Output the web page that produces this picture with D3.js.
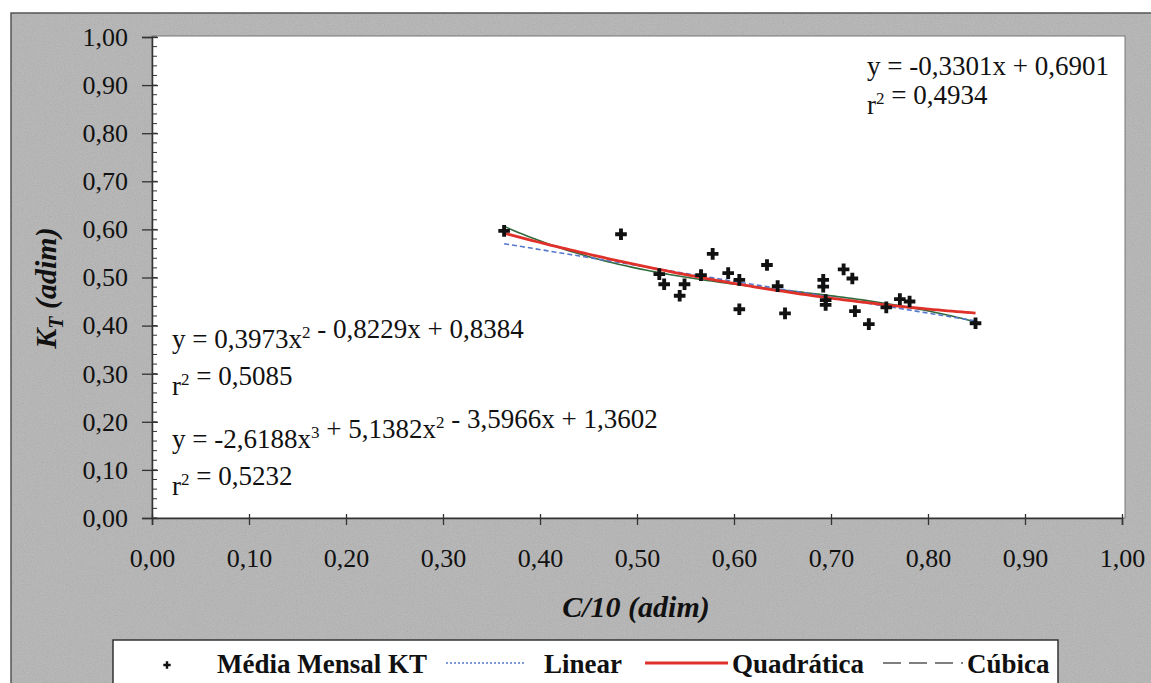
<!DOCTYPE html>
<html>
<head>
<meta charset="utf-8">
<script src="https://cdn.jsdelivr.net/npm/d3@7"></script>
<style>
  html, body { margin: 0; padding: 0; background: #ffffff; }
  svg { display: block; }
  text { font-family: "Liberation Serif", "Times New Roman", serif; fill: #111; }
</style>
</head>
<body>
<svg id="chart" width="1151" height="683"></svg>
<script>
// Monthly mean clearness index KT against cloud cover C/10
const cloudCover = [0.363, 0.4835, 0.523, 0.528, 0.544, 0.549, 0.566, 0.578, 0.594, 0.6055, 0.6055,
  0.634, 0.645, 0.6526, 0.692, 0.692, 0.6945, 0.6945, 0.713, 0.722, 0.7247, 0.739,
  0.757, 0.771, 0.781, 0.849];
const ktMean = [0.597, 0.590, 0.507, 0.486, 0.462, 0.486, 0.505, 0.549, 0.509, 0.495, 0.434,
  0.526, 0.482, 0.4255, 0.495, 0.481, 0.453, 0.443, 0.517, 0.498, 0.430, 0.403,
  0.438, 0.455, 0.450, 0.405];

// Fitted trendline coefficients (highest power first)
const linearCoef = [-0.3301, 0.6901];
const quadCoef = [0.3973, -0.8229, 0.8384];
const cubicCoef = [-2.6188, 5.1382, -3.5966, 1.3602];

const xTicks = [0, 0.1, 0.2, 0.3, 0.4, 0.5, 0.6, 0.7, 0.8, 0.9, 1.0];
const yTicks = [0, 0.1, 0.2, 0.3, 0.4, 0.5, 0.6, 0.7, 0.8, 0.9, 1.0];
const legendLabels = ["Média Mensal KT", "Linear", "Quadrática", "Cúbica"];

const svg = d3.select("#chart");
const fmt = v => d3.format(".2f")(v).replace(".", ",");
const serif = "'Liberation Serif', 'Times New Roman', serif";

// paper grain for the outer frame
const defs = svg.append("defs");
const grain = defs.append("filter").attr("id", "grain")
  .attr("x", 0).attr("y", 0).attr("width", 1).attr("height", 1);
grain.append("feTurbulence").attr("type", "fractalNoise").attr("baseFrequency", 0.9)
  .attr("numOctaves", 2).attr("seed", 7).attr("result", "noise");
grain.append("feColorMatrix").attr("in", "noise").attr("type", "matrix")
  .attr("values", "0.33 0.33 0.33 0 0  0.33 0.33 0.33 0 0  0.33 0.33 0.33 0 0  0 0 0 0 1");

// outer chart frame
svg.append("rect").attr("x", 11).attr("y", 13).attr("width", 1160).attr("height", 700)
  .attr("fill", "#b4b4b4");
svg.append("rect").attr("x", 11).attr("y", 13).attr("width", 1160).attr("height", 700)
  .attr("filter", "url(#grain)").attr("opacity", 0.22);
svg.append("rect").attr("x", 11).attr("y", 13).attr("width", 1160).attr("height", 700)
  .attr("fill", "none").attr("stroke", "#555").attr("stroke-width", 1.5);

const x = d3.scaleLinear().domain([0, 1]).range([152, 1122]);
const y = d3.scaleLinear().domain([0, 1]).range([518, 37]);

// plot area
svg.append("rect").attr("x", 152).attr("y", 36).attr("width", 973).attr("height", 482)
  .attr("fill", "#fff").attr("stroke", "#777").attr("stroke-width", 1);

// y axis: major ticks crossing, minor ticks inside
const yAxis = svg.append("g").attr("transform", `translate(${x(0)},0)`)
  .call(d3.axisLeft(y).tickValues(yTicks).tickFormat(fmt).tickSize(10).tickPadding(14));
yAxis.selectAll(".tick line").attr("x2", -10).attr("x1", 6)
  .attr("stroke", "#333").attr("stroke-width", 1.3);
yAxis.select(".domain").attr("stroke", "#333").attr("stroke-width", 1.5);
yAxis.selectAll(".tick text").style("font-size", "26px").style("font-family", serif).attr("fill", "#1a1a1a");
svg.append("g").selectAll("line").data(d3.range(0, 1.001, 0.02))
  .join("line")
  .attr("x1", x(0)).attr("x2", x(0) + 5)
  .attr("y1", d => y(d)).attr("y2", d => y(d))
  .attr("stroke", "#333").attr("stroke-width", 1);

// x axis
const xAxis = svg.append("g").attr("transform", `translate(0,${y(0)})`)
  .call(d3.axisBottom(x).tickValues(xTicks).tickFormat(fmt).tickSize(7).tickPadding(24));
xAxis.select(".domain").attr("stroke", "#333").attr("stroke-width", 1.5);
xAxis.selectAll(".tick line").attr("stroke", "#333").attr("stroke-width", 1.3).attr("y1", -4);
xAxis.selectAll(".tick text").style("font-size", "26px").style("font-family", serif).attr("fill", "#1a1a1a");

// axis titles
svg.append("text").attr("x", 636).attr("y", 617).attr("text-anchor", "middle")
  .style("font-family", serif)
  .style("font-size", "30px").style("font-weight", "bold").style("font-style", "italic")
  .text("C/10 (adim)");
const yt = svg.append("text").attr("transform", "translate(56,288) rotate(-90)")
  .attr("text-anchor", "middle").style("font-family", serif)
  .style("font-size", "30px").style("font-weight", "bold").style("font-style", "italic");
yt.append("tspan").text("K");
yt.append("tspan").attr("dy", 7).style("font-size", "20px").text("T");
yt.append("tspan").attr("dy", -7).text(" (adim)");

// trendlines
const poly = c => v => c.reduce((acc, k) => acc * v + k, 0);
const xMin = d3.min(cloudCover), xMax = d3.max(cloudCover);
const xs = d3.range(0, 101).map(i => xMin + (xMax - xMin) * i / 100);
const line = f => d3.line().x(d => x(d)).y(d => y(f(d)));

svg.append("path").datum(xs).attr("d", line(poly(cubicCoef)))
  .attr("fill", "none").attr("stroke", "#2f6b3c").attr("stroke-width", 1.6);
svg.append("path").datum(xs).attr("d", line(poly(linearCoef)))
  .attr("fill", "none").attr("stroke", "#5577cc").attr("stroke-width", 1.6).attr("stroke-dasharray", "5,3");
svg.append("path").datum(xs).attr("d", line(poly(quadCoef)))
  .attr("fill", "none").attr("stroke", "#e0302a").attr("stroke-width", 2.8);

// data points
const cross = d3.symbol().type(d3.symbolCross).size(75);
svg.append("g").selectAll("path").data(cloudCover.map((c, i) => [c, ktMean[i]]))
  .join("path")
  .attr("transform", d => `translate(${x(d[0])},${y(d[1])})`)
  .attr("d", cross).attr("fill", "#111");

// equation labels; {sup} entries are raised exponents
function eq(xp, yp, parts) {
  const t = svg.append("text").attr("x", xp).attr("y", yp)
    .style("font-family", serif).style("font-size", "27px");
  parts.forEach(p => {
    if (typeof p === "string") {
      t.append("tspan").text(p);
    } else {
      t.append("tspan").attr("dy", -10).style("font-size", "17px").text(p.sup);
      t.append("tspan").attr("dy", 10).text("");
    }
  });
}
eq(867, 75, ["y = -0,3301x + 0,6901"]);
eq(867, 114, ["r", {sup: "2"}, " = 0,4934"]);
eq(172, 348, ["y = 0,3973x", {sup: "2"}, " - 0,8229x + 0,8384"]);
eq(172, 395, ["r", {sup: "2"}, " = 0,5085"]);
eq(172, 448, ["y = -2,6188x", {sup: "3"}, " + 5,1382x", {sup: "2"}, " - 3,5966x + 1,3602"]);
eq(172, 495, ["r", {sup: "2"}, " = 0,5232"]);

// legend
const lg = svg.append("g");
lg.append("rect").attr("x", 113).attr("y", 640).attr("width", 945).attr("height", 60)
  .attr("fill", "#fff").attr("stroke", "#333").attr("stroke-width", 1.5);
lg.append("path").attr("transform", "translate(167,665)")
  .attr("d", d3.symbol().type(d3.symbolCross).size(30)).attr("fill", "#111");
const lgText = (xp, s) => lg.append("text").attr("x", xp).attr("y", 673)
  .style("font-family", serif)
  .style("font-size", "27px").style("font-weight", "bold").text(s);
lgText(217, legendLabels[0]);
lg.append("line").attr("x1", 446).attr("x2", 525).attr("y1", 663).attr("y2", 663)
  .attr("stroke", "#5577cc").attr("stroke-width", 1.4).attr("stroke-dasharray", "2,2");
lgText(544, legendLabels[1]);
lg.append("line").attr("x1", 645).attr("x2", 728).attr("y1", 663).attr("y2", 663)
  .attr("stroke", "#e0302a").attr("stroke-width", 2.8);
lgText(732, legendLabels[2]);
lg.append("line").attr("x1", 883).attr("x2", 963).attr("y1", 663).attr("y2", 663)
  .attr("stroke", "#555").attr("stroke-width", 1.4).attr("stroke-dasharray", "18,8");
lgText(967, legendLabels[3]);
</script>
</body>
</html>
